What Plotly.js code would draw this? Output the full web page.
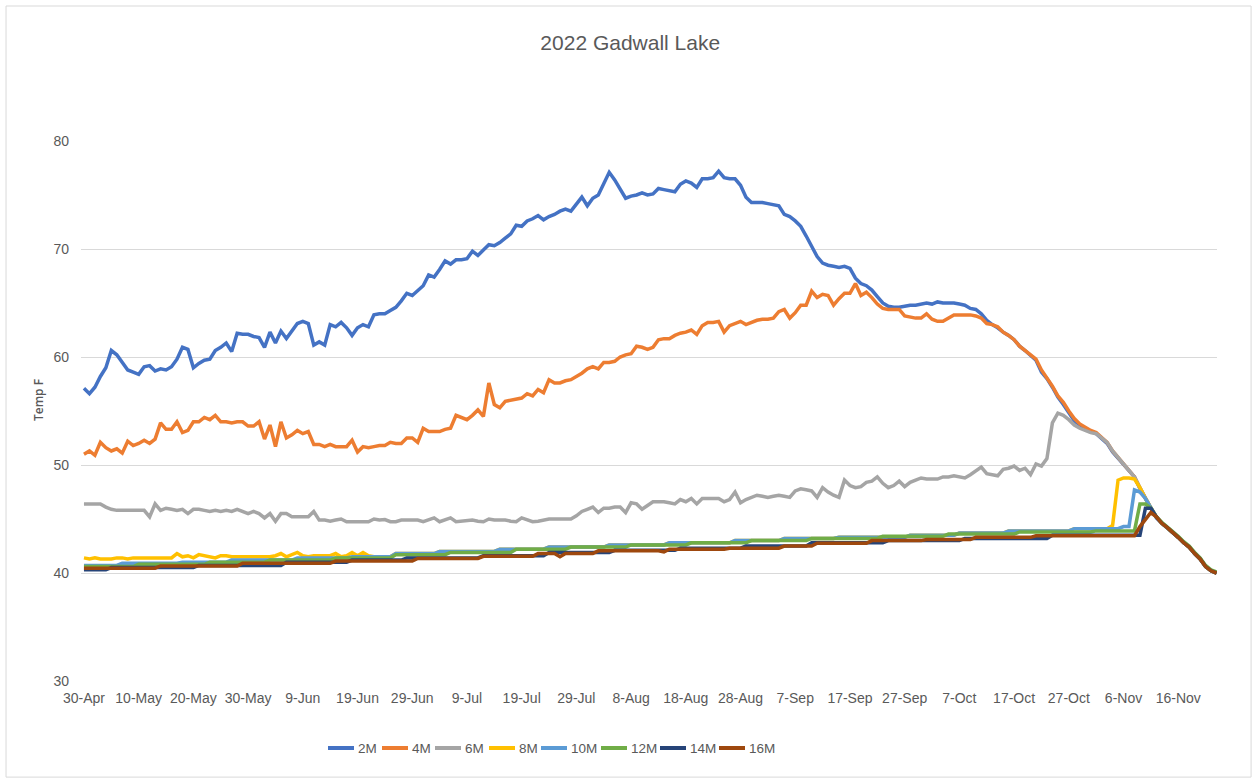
<!DOCTYPE html>
<html>
<head>
<meta charset="utf-8">
<script src="https://cdn.plot.ly/plotly-3.0.1.min.js"></script>
<style>html,body{margin:0;padding:0;background:#fff;}#chart{width:1253px;height:779px;}</style>
</head>
<body>
<div id="chart"></div>
<script>
// Daily readings from 30-Apr-2022
const startDate = '2022-04-30';
const seriesNames = ['2M','4M','6M','8M','10M','12M','14M','16M'];
const tickLabels = ['30-Apr','10-May','20-May','30-May','9-Jun','19-Jun','29-Jun','9-Jul','19-Jul','29-Jul','8-Aug','18-Aug','28-Aug','7-Sep','17-Sep','27-Sep','7-Oct','17-Oct','27-Oct','6-Nov','16-Nov'];

const t2M = [
57.1,56.6,57.2,58.2,59.0,60.6,60.2,59.5,58.8,58.6,
58.4,59.1,59.2,58.7,58.9,58.8,59.1,59.8,60.9,60.7,
59.0,59.4,59.7,59.8,60.6,60.9,61.3,60.5,62.2,62.1,
62.1,61.9,61.8,60.9,62.3,61.3,62.4,61.7,62.4,63.1,
63.3,63.1,61.1,61.4,61.1,63.0,62.8,63.2,62.7,62.0,
62.7,63.0,62.8,63.9,64.0,64.0,64.3,64.6,65.2,65.9,
65.7,66.1,66.6,67.6,67.4,68.1,68.9,68.6,69.0,69.0,
69.1,69.8,69.4,69.9,70.4,70.3,70.6,71.0,71.4,72.2,
72.1,72.6,72.8,73.1,72.7,73.0,73.2,73.5,73.7,73.5,
74.2,74.8,74.0,74.7,75.0,76.0,77.1,76.4,75.5,74.7,
74.9,75.0,75.2,75.0,75.1,75.6,75.5,75.4,75.3,76.0,
76.3,76.1,75.7,76.5,76.5,76.6,77.2,76.6,76.5,76.5,
75.9,74.8,74.3,74.3,74.3,74.2,74.1,74.0,73.2,73.0,
72.6,72.1,71.2,70.2,69.3,68.7,68.5,68.4,68.3,68.4,
68.2,67.3,66.8,66.6,66.2,65.6,65.0,64.7,64.6,64.6,
64.7,64.8,64.8,64.9,65.0,64.9,65.1,65.0,65.0,65.0,
64.9,64.8,64.5,64.4,64.0,63.4,63.0,62.7,62.3,62.0,
61.6,61.0,60.6,60.2,59.7,58.6,58.0,57.2,56.3,55.6,
54.8,54.1,53.7,53.4,53.1,52.9,52.4,52.0,51.2,50.6,
50.0,49.4,48.9,47.8,46.9,46.0,45.1,44.6,44.2,43.8,
43.3,42.8,42.4,41.8,41.3,40.6,40.2,40.0];

const t4M = [
51.0,51.3,50.9,52.1,51.6,51.3,51.5,51.1,52.2,51.8,
52.0,52.3,52.0,52.4,53.9,53.3,53.3,54.0,53.0,53.2,
54.0,54.0,54.4,54.2,54.6,54.0,54.0,53.9,54.0,54.0,
53.6,53.6,54.0,52.4,53.7,51.7,54.0,52.5,52.8,53.2,
52.9,53.1,51.9,51.9,51.7,51.9,51.7,51.7,51.7,52.3,
51.2,51.7,51.6,51.7,51.8,51.8,52.1,52.0,52.0,52.5,
52.5,52.1,53.4,53.1,53.1,53.1,53.3,53.4,54.6,54.4,
54.2,54.6,55.1,54.5,57.6,55.6,55.3,55.9,56.0,56.1,
56.2,56.6,56.4,57.0,56.7,57.9,57.6,57.6,57.8,57.9,
58.2,58.5,58.9,59.1,58.9,59.5,59.5,59.6,60.0,60.2,
60.3,61.0,60.9,60.7,60.9,61.6,61.7,61.7,62.0,62.2,
62.3,62.5,62.1,62.9,63.2,63.2,63.3,62.3,62.9,63.1,
63.3,63.0,63.2,63.4,63.5,63.5,63.6,64.2,64.4,63.6,
64.1,64.8,64.8,66.1,65.5,65.8,65.7,64.8,65.4,65.9,
65.9,66.8,65.7,66.0,65.5,64.9,64.5,64.4,64.4,64.4,
63.8,63.7,63.6,63.6,64.0,63.5,63.3,63.3,63.6,63.9,
63.9,63.9,63.9,63.8,63.6,63.1,63.0,62.8,62.3,62.0,
61.6,61.0,60.6,60.3,59.8,58.8,58.1,57.3,56.4,55.8,
55.0,54.3,53.8,53.5,53.2,53.0,52.6,52.1,51.3,50.7,
50.1,49.5,48.9,47.9,46.9,46.0,45.2,44.6,44.2,43.8,
43.3,42.8,42.4,41.8,41.3,40.6,40.2,40.0];

const t6M = [
46.4,46.4,46.4,46.4,46.1,45.9,45.8,45.8,45.8,45.8,
45.8,45.8,45.2,46.4,45.8,46.0,45.9,45.8,45.9,45.5,
45.9,45.9,45.8,45.7,45.8,45.7,45.8,45.7,45.9,45.7,
45.5,45.7,45.5,45.1,45.5,44.8,45.5,45.5,45.2,45.2,
45.2,45.2,45.7,44.9,44.9,44.8,44.9,45.0,44.75,44.75,
44.75,44.75,44.75,45.0,44.9,44.95,44.75,44.75,44.9,44.9,
44.9,44.9,44.75,44.9,45.1,44.75,44.9,45.1,44.75,44.8,
44.9,44.9,44.8,44.75,45.0,44.9,44.9,44.9,44.8,44.75,
45.1,44.9,44.75,44.8,44.9,45.0,45.0,45.0,45.0,45.0,
45.3,45.7,45.9,46.1,45.6,46.0,46.0,46.1,46.1,45.6,
46.5,46.4,45.9,46.3,46.6,46.6,46.6,46.5,46.4,46.8,
46.6,46.9,46.4,46.9,46.9,46.9,46.9,46.6,46.8,47.5,
46.5,46.8,47.0,47.2,47.1,47.0,47.1,47.2,47.1,47.0,
47.6,47.8,47.7,47.6,47.0,47.9,47.5,47.2,47.0,48.6,
48.1,47.9,48.0,48.4,48.5,48.9,48.3,47.9,48.1,48.5,
48.0,48.4,48.6,48.8,48.7,48.7,48.7,48.9,48.9,49.0,
48.9,48.8,49.1,49.5,49.8,49.2,49.1,49.0,49.6,49.7,
49.9,49.5,49.7,49.1,50.1,49.9,50.6,53.9,54.8,54.6,
54.2,53.7,53.4,53.2,53.0,52.9,52.5,52.1,51.3,50.7,
50.1,49.5,48.9,47.9,46.9,46.0,45.2,44.6,44.2,43.8,
43.3,42.8,42.4,41.8,41.3,40.6,40.2,40.0];

const t8M = [
41.4,41.3,41.4,41.3,41.3,41.3,41.4,41.4,41.3,41.4,
41.4,41.4,41.4,41.4,41.4,41.4,41.4,41.8,41.5,41.6,
41.4,41.7,41.6,41.5,41.4,41.6,41.6,41.5,41.5,41.5,
41.5,41.5,41.5,41.5,41.5,41.6,41.8,41.5,41.7,41.9,
41.6,41.5,41.6,41.6,41.6,41.6,41.8,41.5,41.6,41.9,
41.6,41.9,41.6,41.5,41.5,41.5,41.5,41.8,41.8,41.8,
41.8,41.8,41.8,41.8,41.8,42.0,42.0,42.0,42.0,42.0,
42.0,42.0,42.0,42.0,42.0,42.0,42.2,42.2,42.2,42.2,
42.2,42.2,42.2,42.2,42.2,42.4,42.4,42.4,42.4,42.4,
42.4,42.4,42.4,42.4,42.4,42.4,42.6,42.6,42.6,42.6,
42.6,42.6,42.6,42.6,42.6,42.6,42.6,42.8,42.8,42.8,
42.8,42.8,42.8,42.8,42.8,42.8,42.8,42.8,42.8,43.0,
43.0,43.0,43.0,43.0,43.0,43.0,43.0,43.0,43.2,43.2,
43.2,43.2,43.2,43.2,43.2,43.2,43.2,43.2,43.3,43.3,
43.3,43.3,43.3,43.3,43.3,43.3,43.3,43.3,43.3,43.3,
43.3,43.5,43.5,43.5,43.5,43.5,43.5,43.5,43.5,43.5,
43.7,43.7,43.7,43.7,43.7,43.7,43.7,43.7,43.7,43.9,
43.9,43.9,43.9,43.9,43.9,43.9,43.9,43.9,43.9,43.9,
43.9,44.1,44.1,44.1,44.1,44.1,44.1,44.1,44.4,48.6,
48.8,48.8,48.7,47.9,46.9,46.0,45.2,44.6,44.2,43.8,
43.3,42.8,42.4,41.8,41.3,40.6,40.2,40.0];

const t10M = [
40.7,40.7,40.7,40.7,40.7,40.7,40.7,40.9,40.9,40.9,
40.9,40.9,40.9,40.9,40.9,40.9,40.9,40.9,41.0,41.0,
41.0,41.0,41.0,41.0,41.0,41.0,41.0,41.2,41.2,41.2,
41.2,41.2,41.2,41.2,41.2,41.2,41.2,41.2,41.2,41.4,
41.4,41.4,41.4,41.4,41.4,41.4,41.4,41.4,41.4,41.5,
41.5,41.5,41.5,41.5,41.5,41.5,41.5,41.8,41.8,41.8,
41.8,41.8,41.8,41.8,41.8,42.0,42.0,42.0,42.0,42.0,
42.0,42.0,42.0,42.0,42.0,42.0,42.2,42.2,42.2,42.2,
42.2,42.2,42.2,42.2,42.2,42.4,42.4,42.4,42.4,42.4,
42.4,42.4,42.4,42.4,42.4,42.4,42.6,42.6,42.6,42.6,
42.6,42.6,42.6,42.6,42.6,42.6,42.6,42.8,42.8,42.8,
42.8,42.8,42.8,42.8,42.8,42.8,42.8,42.8,42.8,43.0,
43.0,43.0,43.0,43.0,43.0,43.0,43.0,43.0,43.2,43.2,
43.2,43.2,43.2,43.2,43.2,43.2,43.2,43.2,43.3,43.3,
43.3,43.3,43.3,43.3,43.3,43.3,43.3,43.3,43.3,43.3,
43.3,43.5,43.5,43.5,43.5,43.5,43.5,43.5,43.5,43.5,
43.7,43.7,43.7,43.7,43.7,43.7,43.7,43.7,43.7,43.9,
43.9,43.9,43.9,43.9,43.9,43.9,43.9,43.9,43.9,43.9,
43.9,44.1,44.1,44.1,44.1,44.1,44.1,44.1,44.1,44.1,
44.3,44.3,47.7,47.5,46.9,46.0,45.2,44.6,44.2,43.8,
43.3,42.8,42.4,41.8,41.3,40.6,40.2,40.0];

const t12M = [
40.6,40.6,40.6,40.6,40.6,40.6,40.6,40.6,40.6,40.6,
40.8,40.8,40.8,40.8,40.8,40.8,40.8,40.8,40.8,40.8,
40.8,40.8,40.8,41.0,41.0,41.0,41.0,41.0,41.0,41.0,
41.0,41.0,41.0,41.0,41.2,41.2,41.2,41.2,41.2,41.2,
41.2,41.2,41.2,41.2,41.2,41.2,41.4,41.4,41.4,41.4,
41.4,41.4,41.4,41.4,41.4,41.4,41.4,41.7,41.7,41.7,
41.7,41.7,41.7,41.7,41.7,41.7,41.7,41.9,41.9,41.9,
41.9,41.9,41.9,41.9,41.9,41.9,41.9,41.9,41.9,42.2,
42.2,42.2,42.2,42.2,42.2,42.2,42.2,42.2,42.2,42.4,
42.4,42.4,42.4,42.4,42.4,42.4,42.4,42.4,42.4,42.4,
42.6,42.6,42.6,42.6,42.6,42.6,42.6,42.6,42.6,42.6,
42.6,42.8,42.8,42.8,42.8,42.8,42.8,42.8,42.8,42.8,
42.8,42.8,43.0,43.0,43.0,43.0,43.0,43.0,43.0,43.0,
43.0,43.0,43.0,43.2,43.2,43.2,43.2,43.2,43.2,43.2,
43.2,43.2,43.2,43.2,43.2,43.2,43.4,43.4,43.4,43.4,
43.4,43.4,43.4,43.4,43.4,43.4,43.4,43.4,43.6,43.6,
43.6,43.6,43.6,43.6,43.6,43.6,43.6,43.6,43.6,43.6,
43.6,43.8,43.8,43.8,43.8,43.8,43.8,43.8,43.8,43.8,
43.8,43.8,43.8,43.8,43.8,43.9,43.9,43.9,43.9,43.9,
43.9,43.9,43.9,46.4,46.4,46.0,45.2,44.7,44.3,43.9,
43.4,42.9,42.5,41.9,41.4,40.7,40.3,40.1];

const t14M = [
40.3,40.3,40.3,40.3,40.3,40.5,40.5,40.5,40.5,40.5,
40.5,40.5,40.5,40.5,40.5,40.5,40.5,40.5,40.5,40.5,
40.5,40.7,40.7,40.7,40.7,40.7,40.7,40.7,40.7,40.7,
40.7,40.7,40.7,40.7,40.7,40.7,40.7,41.0,41.0,41.0,
41.0,41.0,41.0,41.0,41.0,41.0,41.0,41.0,41.0,41.2,
41.2,41.2,41.2,41.2,41.2,41.2,41.2,41.2,41.2,41.4,
41.4,41.4,41.4,41.4,41.4,41.4,41.4,41.4,41.4,41.4,
41.4,41.4,41.4,41.6,41.6,41.6,41.6,41.6,41.6,41.6,
41.6,41.6,41.6,41.6,41.6,41.9,41.9,41.9,41.9,41.9,
41.9,41.9,41.9,41.9,41.9,41.9,41.9,42.1,42.1,42.1,
42.1,42.1,42.1,42.1,42.1,42.1,42.1,42.1,42.1,42.3,
42.3,42.3,42.3,42.3,42.3,42.3,42.3,42.3,42.3,42.3,
42.3,42.5,42.5,42.5,42.5,42.5,42.5,42.5,42.5,42.5,
42.5,42.5,42.5,42.8,42.8,42.8,42.8,42.8,42.8,42.8,
42.8,42.8,42.8,42.8,42.8,42.8,42.8,43.0,43.0,43.0,
43.0,43.0,43.0,43.0,43.0,43.0,43.0,43.0,43.0,43.0,
43.0,43.2,43.2,43.2,43.2,43.2,43.2,43.2,43.2,43.2,
43.2,43.2,43.2,43.2,43.2,43.2,43.2,43.5,43.5,43.5,
43.5,43.5,43.5,43.5,43.5,43.5,43.5,43.5,43.5,43.5,
43.5,43.5,43.5,43.5,46.0,46.0,45.2,44.6,44.2,43.8,
43.3,42.8,42.4,41.8,41.3,40.6,40.2,40.0];

const t16M = [
40.45,40.45,40.45,40.45,40.45,40.45,40.45,40.45,40.45,40.45,
40.45,40.45,40.45,40.45,40.65,40.65,40.65,40.65,40.65,40.65,
40.65,40.65,40.65,40.65,40.65,40.65,40.65,40.65,40.65,40.9,
40.9,40.9,40.9,40.9,40.9,40.9,40.9,40.9,40.9,40.9,
40.9,40.9,40.9,40.9,40.9,40.9,41.1,41.1,41.1,41.1,
41.1,41.1,41.1,41.1,41.1,41.1,41.1,41.1,41.1,41.1,
41.1,41.35,41.35,41.35,41.35,41.35,41.35,41.35,41.35,41.35,
41.35,41.35,41.35,41.55,41.55,41.55,41.55,41.55,41.55,41.55,
41.55,41.55,41.55,41.8,41.8,41.8,41.8,41.5,41.8,41.8,
41.8,41.8,41.8,41.8,42.05,42.05,42.05,42.05,42.05,42.05,
42.05,42.05,42.05,42.05,42.05,42.05,41.95,42.2,42.2,42.2,
42.2,42.2,42.2,42.2,42.2,42.2,42.2,42.2,42.3,42.3,
42.3,42.3,42.3,42.3,42.3,42.3,42.3,42.3,42.5,42.5,
42.5,42.5,42.5,42.5,42.75,42.75,42.75,42.75,42.75,42.75,
42.75,42.75,42.75,42.75,43.0,43.0,43.0,43.0,43.0,43.0,
43.0,43.0,43.0,43.0,43.1,43.1,43.1,43.1,43.1,43.1,
43.1,43.1,43.1,43.3,43.3,43.3,43.3,43.3,43.3,43.3,
43.3,43.3,43.3,43.3,43.45,43.45,43.45,43.45,43.45,43.45,
43.45,43.45,43.45,43.45,43.45,43.45,43.45,43.45,43.45,43.45,
43.45,43.45,43.45,44.3,45.0,45.6,45.2,44.6,44.2,43.8,
43.3,42.8,42.4,41.8,41.3,40.6,40.2,40.0];

const seriesValues = [t2M, t4M, t6M, t8M, t10M, t12M, t14M, t16M];
const seriesColors = ['#4472C4','#ED7D31','#A5A5A5','#FFC000','#5B9BD5','#70AD47','#264478','#9E480E'];

function dayString(i) {
  const d = new Date(Date.UTC(2022, 3, 30) + i * 86400000);
  return d.toISOString().slice(0, 10);
}
function datesFor(n) { const out = []; for (let i = 0; i < n; i++) out.push(dayString(i)); return out; }
const tickVals = tickLabels.map((_, i) => dayString(i * 10));

const FONT = '"Liberation Sans", Arial, sans-serif';
const GREY = '#595959';

const traces = seriesNames.map((name, k) => ({
  type: 'scatter', mode: 'lines', name: name,
  x: datesFor(seriesValues[k].length), y: seriesValues[k],
  line: {color: seriesColors[k], width: 3.5, shape: 'linear'},
  showlegend: false,
  hoverinfo: 'x+y+name'
}));

// Legend drawn as line swatches + labels below the plot (Excel style)
const PLOT_L = 81, PLOT_W = 1136, PLOT_B = 681, PLOT_H = 540;
const legendStartsPx = [328, 382, 435, 489, 541, 601, 660, 719];
const legendYPx = 748;
const px2x = p => (p - PLOT_L) / PLOT_W;
const px2y = p => (PLOT_B - p) / PLOT_H;
const legendShapes = seriesNames.map((n, k) => ({
  type: 'line', xref: 'paper', yref: 'paper',
  x0: px2x(legendStartsPx[k]), x1: px2x(legendStartsPx[k] + 26),
  y0: px2y(legendYPx), y1: px2y(legendYPx),
  line: {color: seriesColors[k], width: 4}
}));
const legendLabels = seriesNames.map((n, k) => ({
  text: n, showarrow: false, xref: 'paper', yref: 'paper',
  x: px2x(legendStartsPx[k] + 28), y: px2y(legendYPx),
  xanchor: 'left', yanchor: 'middle',
  font: {family: FONT, size: 13.5, color: GREY}
}));

const layout = {
  width: 1253, height: 779,
  paper_bgcolor: '#ffffff', plot_bgcolor: '#ffffff',
  margin: {l: 81, r: 36, t: 141, b: 98, pad: 0},
  font: {family: FONT, color: GREY, size: 13},
  title: {text: '2022 Gadwall Lake', font: {family: FONT, size: 21, color: GREY}, x: 0.503, xanchor: 'center', y: 0.945, yanchor: 'middle'},
  showlegend: false,
  xaxis: {
    type: 'date',
    range: ['2022-04-29 11:00', '2022-11-23 02:00'],
    tickmode: 'array', tickvals: tickVals, ticktext: tickLabels,
    showgrid: false, zeroline: false, showline: false, ticks: '',
    ticklabelstandoff: 7,
    tickfont: {family: FONT, size: 14, color: GREY},
    tickangle: 0, automargin: false
  },
  yaxis: {
    range: [30, 80], tickmode: 'linear', tick0: 30, dtick: 10,
    showgrid: true, gridcolor: '#d9d9d9', gridwidth: 1,
    zeroline: false, showline: false, ticks: '',
    ticklabelstandoff: 11,
    tickfont: {family: FONT, size: 14, color: GREY},
    automargin: false
  },
  annotations: [{
    text: 'Temp F', textangle: -90, showarrow: false,
    xref: 'paper', yref: 'paper', x: -0.038, y: 0.52, xanchor: 'center', yanchor: 'middle',
    font: {family: '"Open Sans", "DejaVu Sans", sans-serif', size: 12, color: GREY, weight: 600}
  }].concat(legendLabels),
  shapes: [{
    type: 'rect', xref: 'paper', yref: 'paper',
    x0: -0.066, x1: 1.030, y0: -0.178, y1: 1.25,
    line: {color: '#d9d9d9', width: 1}, fillcolor: 'rgba(0,0,0,0)', layer: 'below'
  }].concat(legendShapes)
};

Plotly.newPlot('chart', traces, layout, {displayModeBar: false, staticPlot: true});
</script>
</body>
</html>
